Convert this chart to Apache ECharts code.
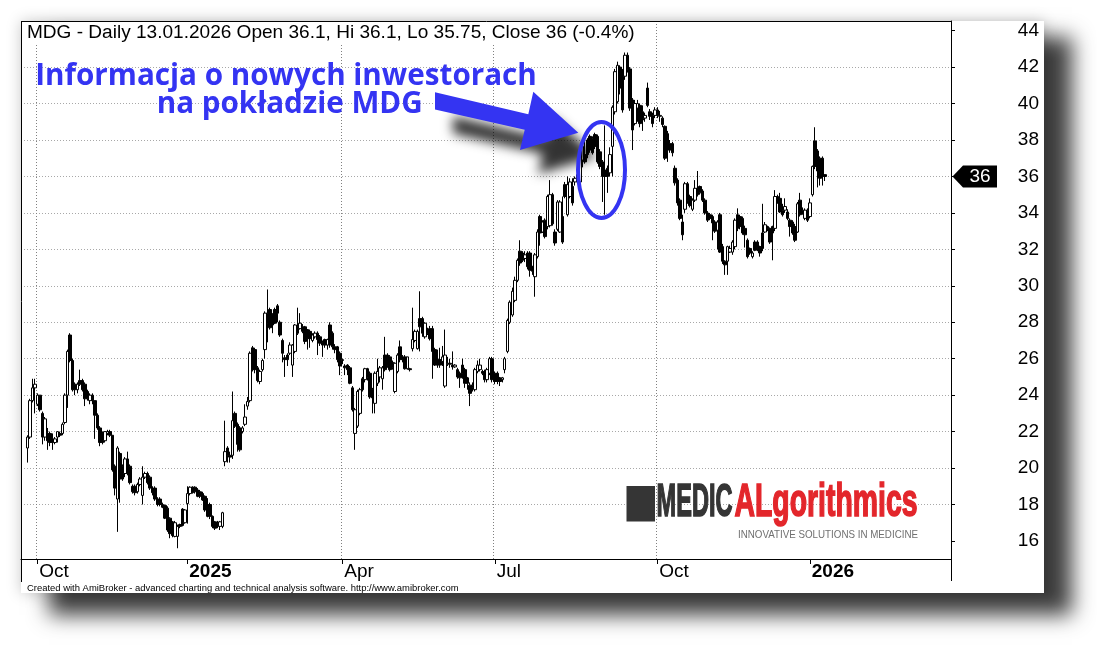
<!DOCTYPE html>
<html><head><meta charset="utf-8">
<style>html,body{margin:0;padding:0;background:#fff}#c{width:1097px;height:646px}</style>
<script src="https://cdn.jsdelivr.net/npm/echarts@6/dist/echarts.min.js"></script>
</head><body><div id="c"></div><script>
// ---------------- DATA ----------------
const firstDate = '2024-09-25';
const holidays = ['2024-11-01','2024-11-11','2024-12-24','2024-12-25','2024-12-26','2024-12-31',
  '2025-01-01','2025-01-06','2025-04-18','2025-04-21','2025-05-01','2025-06-19','2025-08-15',
  '2025-11-11','2025-12-24','2025-12-25','2025-12-26','2025-12-31','2026-01-01','2026-01-06'];
const opens = [
21.1,21.7,23.7,24.4,23.5,24.0,23.0,21.7,21.9,21.9,
21.6,21.4,21.7,21.9,21.9,22.5,24.0,27.3,25.9,24.6,
24.3,24.8,24.8,24.6,24.2,23.7,24.0,23.7,22.9,22.2,
21.9,21.5,21.9,22.0,21.8,20.1,18.3,20.8,20.1,19.7,
20.5,20.1,19.0,19.0,18.7,19.1,18.5,19.5,19.7,19.5,
18.9,18.9,18.3,18.3,18.0,17.95,17.8,17.25,17.05,16.25,
16.25,16.9,17.75,17.0,18.05,18.6,18.95,18.95,18.8,18.7,
18.6,18.45,18.0,18.0,17.35,17.05,16.95,16.8,16.8,20.35,
21.1,20.7,20.7,23.0,22.4,22.2,22.0,22.4,23.4,23.7,
26.6,26.5,25.5,24.75,25.4,26.5,28.5,28.7,28.4,28.7,
28.9,28.0,27.0,26.05,26.2,26.3,25.65,26.4,27.75,27.65,
27.75,27.75,27.6,27.5,27.0,27.2,27.4,27.2,26.9,27.05,
26.75,27.85,27.4,26.65,26.65,26.3,25.9,25.6,25.65,25.5,
24.4,21.9,22.3,23.0,24.9,24.85,25.45,25.2,24.3,23.55,
24.65,25.0,24.9,26.2,26.2,26.1,25.8,24.2,25.3,26.65,
26.1,26.1,25.45,25.45,26.55,27.0,26.55,28.2,28.2,27.2,
27.6,27.65,27.65,26.5,25.95,25.95,25.85,24.5,25.7,25.75,
25.65,25.55,25.4,25.2,25.65,25.4,24.95,24.55,24.55,24.3,
25.3,25.4,25.3,25.3,24.85,25.2,26.0,25.2,25.2,24.95,
24.85,25.4,26.4,28.0,28.4,29.2,30.3,31.9,31.8,31.5,
31.8,31.8,31.05,30.5,31.6,33.8,32.95,33.6,33.25,33.3,
35.0,32.95,33.1,32.95,33.8,35.55,33.9,34.9,35.45,35.7,
35.7,35.7,36.9,37.2,38.0,38.2,38.1,38.3,38.2,37.35,
36.8,36.35,36.45,36.2,37.65,39.55,40.1,42.0,41.85,41.5,
42.65,41.9,40.2,38.9,39.75,39.9,39.55,39.2,40.85,39.55,
39.35,39.35,39.65,39.3,39.2,38.75,38.35,37.8,37.8,36.45,
35.8,34.7,33.5,34.2,35.6,34.9,34.2,34.7,35.35,35.45,
35.2,34.7,34.0,33.9,33.8,33.5,33.05,33.9,32.15,31.35,
31.35,31.85,31.85,32.15,33.9,33.8,33.7,33.15,32.5,32.05,
31.6,32.4,32.4,32.15,32.9,32.95,33.25,33.15,33.25,33.15,
34.9,34.8,34.15,34.15,34.05,33.6,33.5,33.25,32.95,34.7,
34.15,33.7,34.15,33.8,35.0,37.95,37.4,37.0,37.0,36.1];
const closes = [
21.7,23.7,24.4,24.6,24.0,23.2,21.7,22.7,21.5,21.4,
21.4,21.6,22.0,21.8,22.4,24.0,26.4,25.9,24.3,24.3,
24.6,24.6,24.3,23.8,23.8,24.0,23.7,22.9,22.2,21.4,
21.4,22.0,22.0,21.8,19.9,18.9,21.1,19.4,19.4,20.5,
19.7,19.2,18.7,18.65,19.1,19.4,19.5,19.7,19.2,18.9,
18.65,18.3,18.0,18.0,17.85,17.25,16.6,16.4,16.3,17.0,
16.8,16.8,16.85,17.7,18.6,18.95,18.65,18.7,18.45,18.45,
18.25,17.7,17.35,17.35,16.8,16.7,16.8,17.05,17.55,20.9,
20.7,20.6,22.6,22.3,21.3,21.0,22.2,22.8,23.65,26.3,
25.4,25.4,24.8,25.3,25.9,28.5,27.95,27.7,27.85,27.95,
28.5,27.3,26.3,25.95,25.95,26.75,26.75,27.85,27.4,27.95,
27.5,26.95,27.1,27.1,27.3,27.4,27.05,26.85,26.75,26.75,
27.05,26.75,26.65,26.5,25.95,25.6,25.95,25.5,25.4,24.65,
23.2,23.2,24.2,24.3,24.3,25.45,24.95,23.9,23.85,25.2,
25.3,25.5,25.5,25.4,25.65,25.4,25.5,25.75,26.2,25.95,
25.95,25.45,26.1,25.4,27.05,27.5,27.5,27.75,27.4,27.95,
27.4,27.1,26.4,25.65,25.65,25.65,26.1,26.2,25.75,25.7,
25.55,25.65,25.0,24.95,25.2,24.65,24.65,24.1,24.4,25.4,
25.65,25.65,25.2,24.85,25.4,26.0,24.85,24.75,24.75,24.75,
24.95,26.0,28.1,29.1,29.7,30.3,31.4,31.25,31.4,31.7,
31.05,30.85,30.8,31.7,32.95,32.9,33.5,32.7,34.9,35.0,
33.4,32.35,34.6,34.6,32.4,34.9,35.55,35.7,34.55,35.9,
36.1,37.2,37.65,36.8,37.2,37.45,37.3,37.65,36.8,36.55,
36.0,36.0,36.0,37.2,39.8,41.75,42.1,40.85,39.65,42.65,
41.85,39.75,38.55,40.0,40.0,38.9,39.1,39.35,39.9,39.3,
38.9,39.65,39.35,39.35,38.85,37.0,37.45,37.45,37.3,35.65,
34.55,33.7,32.8,35.6,34.7,34.4,34.7,35.35,35.0,35.1,
34.7,34.0,33.6,33.7,33.45,33.0,33.5,31.85,31.35,31.15,
32.15,32.05,32.4,33.6,33.15,33.25,32.9,32.8,31.6,31.8,
31.8,31.95,32.05,31.8,32.05,33.35,33.15,32.4,32.9,34.9,
34.6,34.05,33.9,34.35,33.7,33.25,32.9,32.5,34.5,33.9,
34.0,34.15,33.6,34.55,36.55,36.55,36.3,35.9,36.0,36.0];
const lows = [
20.3,21.6,23.6,23.0,23.4,23.1,21.3,21.5,21.0,21.2,
21.0,21.3,21.4,21.7,21.8,22.4,23.3,25.8,24.2,24.0,
24.1,24.5,24.2,23.4,23.7,23.5,23.5,21.6,22.1,21.2,
21.3,21.4,21.8,21.7,19.8,18.5,16.5,18.1,19.3,19.5,
19.6,19.1,18.6,18.5,18.6,19.0,18.0,19.4,19.1,18.8,
18.5,18.2,17.9,17.9,17.8,17.2,16.5,16.15,16.2,16.2,
15.6,16.7,16.8,16.95,16.95,18.5,18.6,18.6,18.4,18.35,
18.2,17.6,17.3,17.2,16.7,16.6,16.7,16.6,16.7,20.1,
20.3,20.3,20.5,22.2,20.9,20.9,21.9,22.3,23.2,23.6,
25.3,25.2,24.7,24.6,25.3,26.0,26.9,27.6,27.4,27.9,
28.0,27.2,25.8,25.0,25.6,26.2,25.0,26.3,27.3,27.6,
27.4,26.8,26.5,26.6,26.9,27.1,26.2,26.7,26.1,26.6,
26.5,26.6,26.5,26.3,25.8,25.1,25.7,25.1,25.1,24.6,
23.1,21.0,22.2,22.9,24.2,24.7,24.8,23.8,23.0,23.0,
24.5,24.7,24.3,25.3,25.5,25.3,25.4,24.1,25.2,25.8,
25.8,25.4,25.4,25.3,26.4,26.9,26.5,26.4,27.2,27.1,
27.3,27.0,24.9,25.6,25.5,25.5,25.6,24.4,25.6,25.5,
25.4,25.5,24.9,24.4,24.9,24.4,24.3,23.4,24.2,24.2,
25.2,25.3,25.1,24.7,24.7,25.1,24.7,24.6,24.6,24.5,
24.7,25.2,26.3,27.9,28.3,29.1,30.2,31.1,31.3,31.3,
30.9,30.5,30.6,29.4,31.5,32.2,32.9,32.6,33.1,33.2,
33.3,32.2,33.0,32.9,32.3,34.8,33.8,34.8,34.4,35.5,
35.6,35.6,36.5,36.7,37.0,37.3,37.2,37.5,36.7,36.4,
34.6,33.9,35.1,36.0,36.0,39.4,40.0,40.5,39.5,41.3,
41.7,39.6,37.45,38.8,39.0,38.7,38.5,39.0,39.8,39.1,
38.7,39.2,39.2,39.0,38.7,36.9,36.8,37.3,37.1,35.5,
34.4,33.6,32.5,34.0,34.5,34.3,34.1,34.6,34.9,35.0,
34.6,33.9,33.5,33.6,32.5,32.9,32.0,31.8,31.2,30.6,
30.6,31.8,31.7,32.0,33.0,33.1,32.8,32.1,31.5,31.7,
31.5,31.9,31.9,31.6,31.9,32.9,33.0,32.3,31.4,33.0,
34.5,34.0,33.8,34.0,33.6,32.7,32.8,32.4,32.9,33.8,
33.9,33.6,33.5,33.7,34.9,36.4,35.4,35.5,35.5,35.75];
const highs = [
21.8,23.8,24.9,24.9,24.1,24.0,23.1,22.8,22.2,22.0,
21.9,21.7,22.0,22.0,22.5,24.1,26.5,27.4,26.0,24.7,
24.7,25.4,24.9,24.7,24.3,24.1,24.1,23.7,23.0,22.3,
22.0,22.0,22.1,22.1,21.8,20.2,21.2,20.9,20.2,20.6,
20.9,20.2,19.1,19.1,19.2,19.5,20.1,19.8,19.8,19.6,
19.0,19.0,18.4,18.4,18.1,18.0,17.9,17.3,17.1,17.1,
16.9,16.95,17.8,17.75,19.0,19.0,19.0,19.0,18.9,18.8,
18.7,18.5,18.35,18.1,17.4,17.1,17.1,17.1,17.6,22.6,
21.2,20.9,24.2,23.1,22.5,22.3,22.3,23.5,23.9,26.4,
26.7,26.6,25.6,25.4,26.0,28.6,29.8,28.8,28.5,28.8,
29.0,28.1,27.1,26.2,26.3,26.9,26.8,27.9,28.8,28.5,
27.9,27.8,27.6,27.6,27.4,27.5,27.5,27.3,27.0,27.1,
27.1,28.0,27.5,26.8,26.7,26.4,26.0,25.7,25.7,25.6,
24.5,23.3,24.3,24.4,25.0,25.5,25.5,25.3,24.4,25.3,
26.0,25.6,25.6,27.2,26.3,26.2,25.9,25.8,26.3,27.0,
26.2,26.2,26.1,25.5,28.8,27.6,27.6,29.7,28.3,28.0,
27.7,27.8,27.8,26.6,26.5,26.6,26.7,27.6,26.1,26.0,
26.4,25.7,25.5,25.3,26.0,25.5,25.0,24.7,24.7,25.5,
25.9,26.0,25.4,25.4,25.5,26.1,26.1,25.3,25.3,25.0,
25.0,26.1,28.2,29.2,29.9,30.5,31.5,32.5,31.9,31.9,
31.9,31.9,31.1,31.8,33.1,33.9,33.6,33.7,35.0,35.8,
35.1,33.1,34.7,34.7,34.9,35.7,36.0,35.9,35.9,36.0,
36.2,37.3,37.8,38.0,38.1,38.3,38.2,38.4,38.3,37.5,
36.9,38.8,36.6,37.6,39.9,41.9,42.3,42.1,41.9,42.8,
42.8,42.0,40.3,40.2,40.2,40.0,39.9,39.5,41.15,39.7,
39.5,39.8,39.8,39.6,39.3,38.8,38.5,38.0,37.9,36.6,
35.9,34.8,33.9,35.7,35.7,35.0,34.8,35.8,36.3,35.5,
35.3,34.8,34.1,34.0,33.9,33.6,33.6,34.0,32.3,31.4,
32.2,32.2,32.5,33.7,34.25,33.9,33.8,33.3,32.6,32.1,
31.9,32.5,32.5,32.2,34.5,33.5,33.3,33.2,33.3,35.25,
35.0,35.1,34.5,34.8,34.2,33.7,33.6,33.4,34.6,35.1,
34.3,34.25,34.25,34.8,36.6,38.7,37.5,37.1,37.1,36.1];
const yTicks = [16,18,20,22,24,26,28,30,32,34,36,38,40,42,44];
const monthNames = {4:'Apr', 7:'Jul', 10:'Oct'};
const titleText = 'MDG - Daily 13.01.2026 Open 36.1, Hi 36.1, Lo 35.75, Close 36 (-0.4%)';
const noteLines = ['Informacja o nowych inwestorach', 'na pokładzie MDG'];
const footerText = 'Created with AmiBroker - advanced charting and technical analysis software. http://www.amibroker.com';

// ---------------- CATEGORIES ----------------
const LEAD = 2, TAIL = 50;
function tradingDays(startISO, before, count) {
  const out = [];
  const d = new Date(startISO + 'T00:00:00Z');
  let back = 0;
  while (back < before) {
    d.setUTCDate(d.getUTCDate() - 1);
    const wd = d.getUTCDay(), s = d.toISOString().slice(0, 10);
    if (wd !== 0 && wd !== 6 && !holidays.includes(s)) back++;
  }
  while (out.length < count) {
    const wd = d.getUTCDay(), s = d.toISOString().slice(0, 10);
    if (wd !== 0 && wd !== 6 && !holidays.includes(s)) out.push(s);
    d.setUTCDate(d.getUTCDate() + 1);
  }
  return out;
}
const cats = tradingDays(firstDate, LEAD, LEAD + opens.length + TAIL);
const marks = {};
for (let i = 1; i < cats.length; i++) {
  const m = +cats[i].slice(5, 7), pm = +cats[i - 1].slice(5, 7);
  if (m !== pm && m % 3 === 1) marks[i] = (m === 1) ? '{y|' + cats[i].slice(0, 4) + '}' : monthNames[m];
}
const candles = [];
for (let i = 0; i < LEAD; i++) candles.push(['-', '-', '-', '-']);
opens.forEach((o, i) => candles.push([o, closes[i], lows[i], highs[i]]));

// ---------------- CHART ----------------
const FONT = '"Liberation Sans", Arial, sans-serif';
const chart = echarts.init(document.getElementById('c'), null, {renderer: 'canvas', width: 1097, height: 646});
const option = {
  animation: false,
  backgroundColor: '#fff',
  textStyle: {fontFamily: FONT},
  grid: {left: 21, top: 21, right: 146, bottom: 87, show: false, containLabel: false, outerBoundsMode: 'none'},
  xAxis: {
    type: 'category', data: cats, boundaryGap: true,
    axisLine: {show: true, lineStyle: {color: '#000', width: 1}},
    axisTick: {show: true, alignWithLabel: true, length: 5, lineStyle: {color: '#000'},
      interval: (idx) => marks[idx] !== undefined},
    axisLabel: {show: true, interval: (idx) => marks[idx] !== undefined,
      formatter: (v, idx) => marks[idx] || '', align: 'left', margin: 3, padding: [0, 0, 0, 2],
      fontSize: 19, fontFamily: FONT, color: '#000',
      rich: {y: {fontSize: 19, fontFamily: FONT, fontWeight: 'bold', color: '#000'}}},
    splitLine: {show: true, interval: (idx) => marks[idx] !== undefined && marks[idx].charAt(0) !== '{',
      lineStyle: {color: '#808080', width: 1, type: [1, 2]}}
  },
  yAxis: {
    type: 'value', position: 'right', min: 15.01, max: 44.53, minInterval: 2, maxInterval: 2, splitNumber: 15,
    axisLine: {show: true, lineStyle: {color: '#000', width: 1}},
    axisTick: {show: true, length: 4, lineStyle: {color: '#000'}, customValues: yTicks},
    axisLabel: {show: true, customValues: yTicks, align: 'right', margin: 88, fontSize: 19, fontFamily: FONT, color: '#000'},
    splitLine: {show: true, showMinLine: false, showMaxLine: false, lineStyle: {color: '#a8a8a8', width: 1, type: [1, 2]}}
  },
  series: [{
    type: 'candlestick', data: candles, barWidth: 3, silent: true,
    itemStyle: {color: '#fff', color0: '#000', borderColor: '#000', borderColor0: '#000', borderColorDoji: '#000', borderWidth: 1},
    emphasis: {disabled: true}
  }]
};
chart.setOption(option);

// ---------------- DECORATION ----------------
const mctx = document.createElement('canvas').getContext('2d');
function textW(text, weight, size, family) { mctx.font = weight + ' ' + size + 'px ' + family; return mctx.measureText(text).width; }
function fitSize(text, weight, family, target) { return 100 * target / textW(text, weight, 100, family); }
const NOTE_FONT = '"Open Sans", "Noto Sans", sans-serif';
const BLUE = '#3434f2';
const titleSize = fitSize(titleText, 'normal', FONT, 608);
const n1 = fitSize(noteLines[0], 'bold', NOTE_FONT, 502);
const n2 = fitSize(noteLines[1], 'bold', NOTE_FONT, 266);
const footSize = fitSize(footerText, 'normal', FONT, 432);
const logoSize = 46;
const sMedic = 76 / textW('MEDIC', 'bold', logoSize, FONT);
const sAl = 183 / textW('ALgorithmics', 'bold', logoSize, FONT);
const sInn = 180 / textW('INNOVATIVE SOLUTIONS IN MEDICINE', 'normal', 11.5, FONT);
const lastClose = closes[closes.length - 1];
const ty = chart.convertToPixel({yAxisIndex: 0}, lastClose);

const g = [
  {type: 'rect', z: -12, silent: true, shape: {x: 21 - 4000, y: 21, width: 1023, height: 572},
    style: {fill: '#000', shadowColor: 'rgba(0,0,0,0.22)', shadowBlur: 14, shadowOffsetX: 4000}},
  {type: 'rect', z: -11, silent: true, shape: {x: 49 - 4000, y: 37, width: 1023, height: 578},
    style: {fill: '#000', shadowColor: 'rgba(0,0,0,0.76)', shadowBlur: 20, shadowOffsetX: 4000}},
  {type: 'rect', z: -10, silent: true, shape: {x: 21, y: 21, width: 1023, height: 572}, style: {fill: '#fff'}},
  {type: 'line', z: 6, silent: true, shape: {x1: 21, y1: 21.5, x2: 952, y2: 21.5}, style: {stroke: '#000', lineWidth: 1}},
  {type: 'line', z: 6, silent: true, shape: {x1: 21.5, y1: 21, x2: 21.5, y2: 582}, style: {stroke: '#000', lineWidth: 1}},
  {type: 'line', z: 6, silent: true, shape: {x1: 951.5, y1: 559, x2: 951.5, y2: 581}, style: {stroke: '#000', lineWidth: 1}},
  {type: 'rect', z: 5, silent: true, shape: {x: 22, y: 22, width: 619, height: 22}, style: {fill: '#fff'}},
  {type: 'text', z: 6, silent: true, x: 27, y: 33, style: {text: titleText, fontFamily: FONT, fontSize: titleSize, fill: '#000', align: 'left', verticalAlign: 'middle'}},
  {type: 'rect', z: 4, silent: true, shape: {x: 626.5, y: 486, width: 28.5, height: 35.5}, style: {fill: '#353535'}},
  {type: 'text', z: 4, silent: true, x: 656.5, y: 503.5, scaleX: sMedic, style: {text: 'MEDIC', fontFamily: FONT, fontWeight: 'bold', fontSize: logoSize, fill: '#353535', stroke: '#353535', lineWidth: 1.6, align: 'left', verticalAlign: 'middle'}},
  {type: 'text', z: 4, silent: true, x: 734.5, y: 503.5, scaleX: sAl, style: {text: 'ALgorithmics', fontFamily: FONT, fontWeight: 'bold', fontSize: logoSize, fill: '#e3262b', stroke: '#e3262b', lineWidth: 1.6, align: 'left', verticalAlign: 'middle'}},
  {type: 'text', z: 4, silent: true, x: 738, y: 534.5, scaleX: sInn, style: {text: 'INNOVATIVE SOLUTIONS IN MEDICINE', fontFamily: FONT, fontSize: 11.5, fill: '#707070', align: 'left', verticalAlign: 'middle'}},
  {type: 'text', z: 6, silent: true, x: 27, y: 588.8, style: {text: footerText, fontFamily: FONT, fontSize: footSize, fill: '#000', align: 'left', verticalAlign: 'middle'}},
  {type: 'polygon', z: 6, silent: true, shape: {points: [[952.5, ty], [963, ty - 11], [997, ty - 11], [997, ty + 11], [963, ty + 11]]}, style: {fill: '#000'}},
  {type: 'text', z: 7, silent: true, x: 980, y: ty, style: {text: String(lastClose), fontFamily: FONT, fontSize: 19, fill: '#fff', align: 'center', verticalAlign: 'middle'}},
  {type: 'polygon', z: 19, silent: true, shape: {points: [[435, 92.2], [528.3, 114.3], [533.3, 91.7], [578.3, 132.7], [520, 150], [524.7, 129.7], [435, 109.5]]},
    style: {fill: BLUE, shadowColor: 'rgba(0,0,0,0.8)', shadowBlur: 12, shadowOffsetX: 18, shadowOffsetY: 24}},
  {type: 'ellipse', z: 20, silent: true, shape: {cx: 601.5, cy: 170, rx: 23.5, ry: 48}, style: {fill: 'none', stroke: BLUE, lineWidth: 4}},
  {type: 'text', z: 20, silent: true, x: 286, y: 76.7, style: {text: noteLines[0], fontFamily: NOTE_FONT, fontWeight: 'bold', fontSize: n1, fill: BLUE, align: 'center', verticalAlign: 'middle'}},
  {type: 'text', z: 20, silent: true, x: 289.7, y: 105, style: {text: noteLines[1], fontFamily: NOTE_FONT, fontWeight: 'bold', fontSize: n2, fill: BLUE, align: 'center', verticalAlign: 'middle'}}
];
chart.setOption({graphic: g});
</script></body></html>
